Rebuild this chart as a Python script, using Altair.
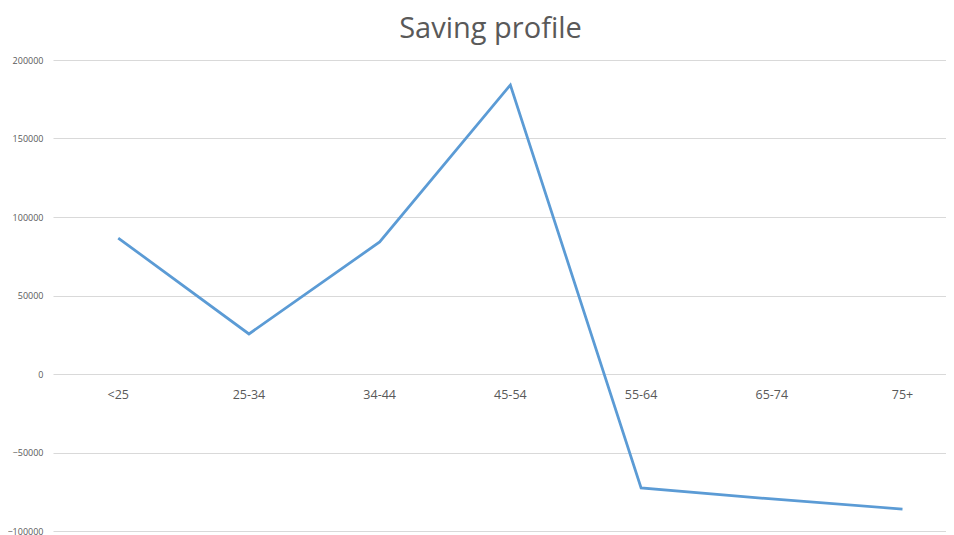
import altair as alt
import pandas as pd

categories = ["<25", "25-34", "34-44", "45-54", "55-64", "65-74", "75+"]
savings = [86600, 25500, 84100, 184100, -72600, -79600, -86000]

df = pd.DataFrame({"age": categories, "saving": savings})

xscale = alt.Scale(type="point", domain=categories, padding=0.416, align=0.6)
yscale = alt.Scale(domain=[-100000, 200000], nice=False, zero=False)

line = alt.Chart(df).mark_line(color="#5B9BD5", strokeWidth=2.75).encode(
    x=alt.X("age:N", scale=xscale, sort=categories,
            axis=alt.Axis(labels=False, ticks=False, domain=False, grid=False, title=None)),
    y=alt.Y("saving:Q", scale=yscale,
            axis=alt.Axis(values=[-100000, -50000, 0, 50000, 100000, 150000, 200000],
                          format="d", labelFontSize=9, labelColor="#595959",
                          labelFont="Open Sans", labelPadding=10, ticks=False,
                          domain=False, gridColor="#D9D9D9", gridWidth=1, title=None)),
)

labels = alt.Chart(df).mark_text(
    fontSize=12.5, color="#595959", font="Open Sans", dy=21
).encode(
    x=alt.X("age:N", scale=xscale, sort=categories),
    y=alt.datum(0),
    text="age:N",
)

chart = alt.layer(line, labels).properties(
    width=893,
    height=471,
    title=alt.Title("Saving profile", fontSize=29, font="Open Sans", fontWeight="normal",
                    color="#595959", anchor="middle", dx=-9, offset=12),
    autosize=alt.AutoSizeParams(type="none"),
    padding={"left": 45, "top": 52, "right": 0, "bottom": 4},
).configure_view(stroke=None)

chart.save("out.html", embed_options={"renderer": "svg", "actions": False})
